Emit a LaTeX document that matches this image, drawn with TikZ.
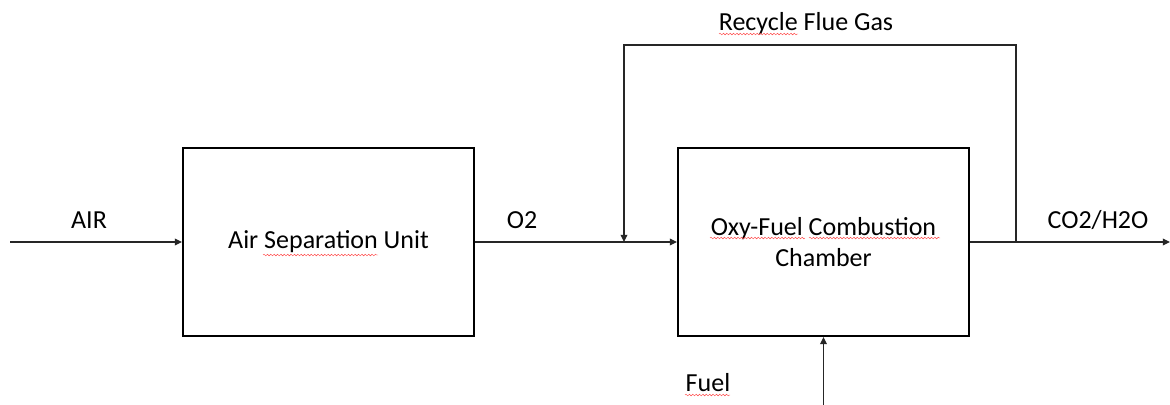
\documentclass[tikz,border=0pt]{standalone}
\usepackage{fontspec}
\setmainfont{Carlito}
\usetikzlibrary{positioning, arrows.meta, decorations.pathmorphing}
\tikzset{
    unit/.style={
           rectangle,
           draw=black, line width=1.4pt,
           minimum width=7.275cm,
           minimum height=4.7cm,
           align=center,
           font=\fontsize{18.5}{21.5}\selectfont,
           },
    flowlabel/.style={anchor=base, inner sep=0pt, font=\fontsize{18.5}{21.5}\selectfont},
    squiggle/.style={red!75, line width=0.3pt, decorate,
           decoration={snake, amplitude=0.6pt, segment length=2.4pt}},
}

\begin{document}
\begin{tikzpicture}[x=0.025cm, y=-0.025cm, ->, >={Triangle[length=0.18cm, width=0.17cm]}, line width=0.8pt, color=black!85]
  \useasboundingbox (0,0) rectangle (1170,405);

  \node[unit, text=black]  (ASU)  at (328.5,242)  {Air Separation Unit};
  \node[unit, text=black]  (Oxy)  at (823.5,242)  {Oxy-Fuel Combustion\\Chamber};

  \coordinate (airIn)   at (10,242);
  \coordinate (gasOut)  at (1170,242);
  \coordinate (split)   at (1016,242);
  \coordinate (loopTop) at (624,45);
  \coordinate (merge)   at (624,242);
  \coordinate (fuelIn)  at (823.5,405);

% streams
  \draw (airIn)    --  (ASU.west);
  \draw (ASU.east) --  (Oxy.west);
  \draw (Oxy.east) --  (gasOut);
  \draw (split)    |-  (loopTop) -- (merge);
  \draw (fuelIn)   --  (Oxy.south);

% stream labels
  \node[flowlabel, text=black] (airLbl)     at (89,229)   {AIR};
  \node[flowlabel, text=black] (oxLbl)      at (522,229)  {O2};
  \node[flowlabel, text=black] (gasLbl)     at (1098,229) {CO2/H2O};
  \node[flowlabel, text=black] (recycleLbl) at (806,31)   {Recycle Flue Gas};
  \node[flowlabel, text=black] (fuelLbl)    at (708,392)  {Fuel};

% spell check marks
  \draw[-, squiggle] (263,255) -- (378,255);
  \draw[-, squiggle] (719,34)  -- (798,34);
  \draw[-, squiggle] (710,238) -- (805,238);
  \draw[-, squiggle] (809,238) -- (940,238);
  \draw[-, squiggle] (685,395) -- (730,395);
\end{tikzpicture}
\end{document}
